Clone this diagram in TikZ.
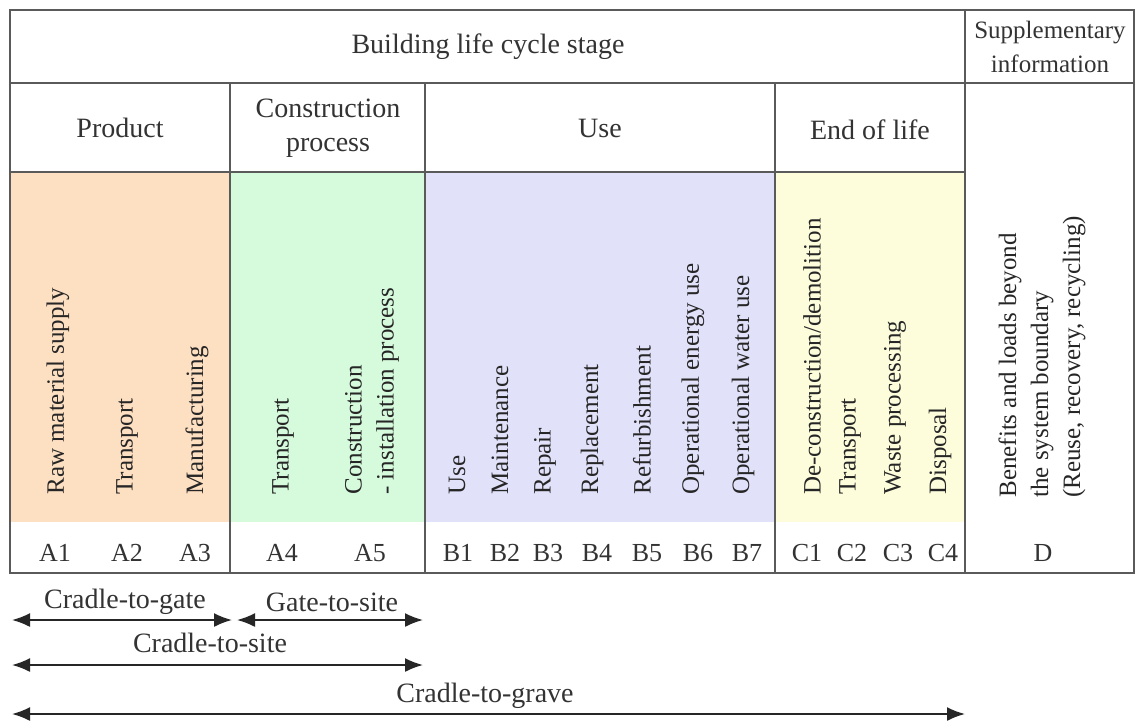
\documentclass[tikz,border=0pt]{standalone}
\usepackage{fontspec}
\setmainfont{Liberation Serif}
\usetikzlibrary{arrows.meta,positioning}

\definecolor{prodfill}{HTML}{FDDFC2}
\definecolor{consfill}{HTML}{D6FADC}
\definecolor{usefill}{HTML}{E1E1FA}
\definecolor{eolfill}{HTML}{FDFDDC}
\definecolor{rulegray}{HTML}{5A5A5A}

\tikzset{
  rule/.style={draw=rulegray, line width=0.9pt},
  headtxt/.style={font=\fontsize{14}{17}\selectfont, align=center, text=black!80},
  vtxt/.style={rotate=90, anchor=west, inner sep=0pt, align=left,
    font=\fontsize{12.5}{16}\selectfont, text=black!85},
  codetxt/.style={font=\fontsize{13}{15}\selectfont, text=black!80},
  span/.style={{Latex[length=9pt,width=7pt]}-{Latex[length=9pt,width=7pt]},
    line width=0.9pt, draw=black!85},
  spantxt/.style={font=\fontsize{14}{16}\selectfont, text=black!80},
}

\begin{document}
\begin{tikzpicture}[x=0.5pt,y=-0.5pt]
\useasboundingbox (0,0) rectangle (1137,720);
\fill[white] (0,0) rectangle (1137,720);

% coloured stage blocks
\fill[prodfill] (10,172) rectangle (230,522);
\fill[consfill] (230,172) rectangle (425,522);
\fill[usefill] (425,172) rectangle (775,522);
\fill[eolfill] (775,172) rectangle (965,522);

% table rules
\draw[rule] (10,10) rectangle (1134,573);
\draw[rule] (10,83) -- (1134,83);
\draw[rule] (10,172) -- (965,172);
\draw[rule] (965,10) -- (965,573);
\foreach \x in {230,425,775}
  \draw[rule] (\x,83) -- (\x,573);

% headers
\node[headtxt] (stage) at (488,47) {Building life cycle stage};
\node[headtxt, font=\fontsize{12.5}{17}\selectfont] (supp) at (1050,47) {Supplementary\\information};
\node[headtxt] (prod) at (120,128) {Product};
\node[headtxt] (cons) at (328,128) {Construction\\process};
\node[headtxt] (use) at (600,128) {Use};
\node[headtxt] (eol) at (870,130) {End of life};

% modules
\def\modA{1/58/{Raw material supply},2/127/{Transport},3/197/{Manufacturing},4/283/{Transport},5/372/{Construction\\- installation process}}
\foreach \i / \x / \txt in \modA
  \node[vtxt] (ma\i) at (\x,495) {\txt};

\def\modB{1/457/{Use},2/500/{Maintenance},3/545/{Repair},4/592/{Replacement},5/642/{Refurbishment},6/693/{Operational energy use},7/743/{Operational water use}}
\foreach \i / \x / \txt in \modB
  \node[vtxt] (mb\i) at (\x,495) {\txt};

\def\modC{1/812/{De-construction/demolition},2/850/{Transport},3/895/{Waste processing},4/940/{Disposal}}
\foreach \i / \x / \txt in \modC
  \node[vtxt] (mc\i) at (\x,495) {\txt};

\node[vtxt] (md) at (1042,498) {Benefits and loads beyond\\the system boundary\\(Reuse, recovery, recycling)};

% module codes
\def\codes{A1/55,A2/127,A3/195,A4/282,A5/370,B1/458,B2/505,B3/548,B4/597,B5/647,B6/698,B7/747,C1/807,C2/852,C3/898,C4/943,D/1043}
\foreach \c / \x in \codes
  \node[codetxt] (c\c) at (\x,553) {\c};

% system boundaries
\coordinate (cgL) at (12,620);
\coordinate (cgR) at (232,620);
\coordinate (gsL) at (237,620);
\coordinate (gsR) at (423,620);
\coordinate (csL) at (12,665);
\coordinate (csR) at (423,665);
\coordinate (cvL) at (12,714);
\coordinate (cvR) at (965,714);

\draw[span] (cgL) -- (cgR);
\draw[span] (gsL) -- (gsR);
\draw[span] (csL) -- (csR);
\draw[span] (cvL) -- (cvR);

\node[spantxt] (tcg) at (125,602) {Cradle-to-gate};
\node[spantxt] (tgs) at (332,602) {Gate-to-site};
\node[spantxt] (tcs) at (210,643) {Cradle-to-site};
\node[spantxt] (tcv) at (485,696) {Cradle-to-grave};

\end{tikzpicture}
\end{document}
